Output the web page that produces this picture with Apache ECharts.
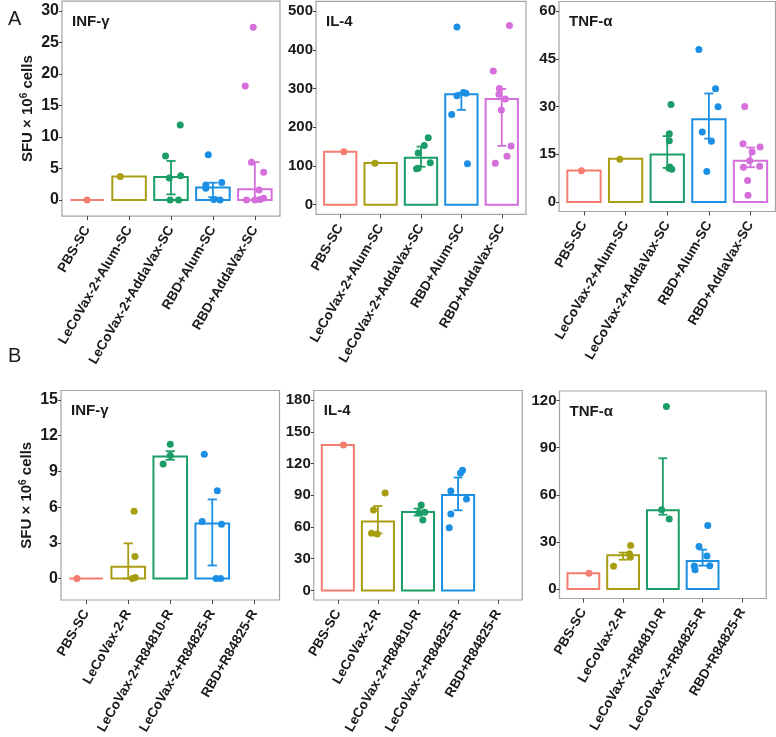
<!DOCTYPE html>
<html><head><meta charset="utf-8">
<script src="https://cdn.jsdelivr.net/npm/echarts@6/dist/echarts.min.js"></script>
<style>html,body{margin:0;padding:0;background:#fff}#c{width:776px;height:737px}</style>
</head><body><div id="c"></div>
<script>
// ---------- categories ----------
const catsA = ['PBS-SC','LeCoVax-2+Alum-SC','LeCoVax-2+AddaVax-SC','RBD+Alum-SC','RBD+AddaVax-SC'];
const catsB = ['PBS-SC','LeCoVax-2-R','LeCoVax-2+R84810-R','LeCoVax-2+R84825-R','RBD+R84825-R'];

// ---------- tick labels ----------
const ticksA1 = [0,5,10,15,20,25,30];
const ticksA2 = [0,100,200,300,400,500];
const ticksA3 = [0,15,30,45,60];
const ticksB1 = [0,3,6,9,12,15];
const ticksB2 = [0,30,60,90,120,150,180];
const ticksB3 = [0,30,60,90,120];

// ---------- Panel A : INF-γ ----------
const infA_median = [0, 3.75, 3.65, 2.0, 1.7];
const infA_q1 = [null, null, 0.9, 0.45, 0];
const infA_q3 = [null, null, 6.2, 2.75, 6.0];
const infA_points = [[0],[3.75],[7.0,11.9,3.5,3.85,0,0],[7.2,2.4,1.85,2.8,0.1,0],[27.4,18.1,6.0,4.4,1.6,0,0,0.1,0.3]];
const infA_jitter = [[0],[-0.21],[-0.13,0.22,-0.04,0.23,-0.02,0.18],[-0.11,-0.17,-0.17,0.21,0.02,0.17],[-0.04,-0.23,-0.08,0.21,0.1,-0.2,0,0.12,0.21]];

// ---------- Panel A : IL-4 ----------
const il4A_median = [137, 107.5, 121.5, 285, 273];
const il4A_q1 = [null, null, 98, 245, 152];
const il4A_q3 = [null, null, 150, 289, 299];
const il4A_points = [[137],[107],[173,153,133.5,108.4,93,94],[459,281.5,290,288,233,106],[463,345,300,285,273,244.5,151.6,125,107]];
const il4A_jitter = [[0.09],[-0.14],[0.18,0.08,-0.07,0.23,-0.11,-0.07],[-0.11,-0.11,0.05,0.11,-0.24,0.15],[0.19,-0.21,-0.06,-0.07,0.09,-0.01,0.23,0.13,-0.16]];

// ---------- Panel A : TNF-α ----------
const tnfA_median = [9.9, 13.6, 14.9, 26, 12.95];
const tnfA_q1 = [null, null, 10.7, 19.9, 10.9];
const tnfA_q3 = [null, null, 20.7, 34.1, 17.1];
const tnfA_points = [[9.8],[13.4],[30.6,21.4,19.2,10.6,10.3,11],[47.9,35.6,29.9,22,19.1,9.6],[30,18.3,17.3,15.7,12.95,10.9,11.2,6.75,2.1]];
const tnfA_jitter = [[-0.06],[-0.14],[0.09,0.05,0.05,0.04,0.11,0.06],[-0.24,0.16,0.22,-0.16,0.06,-0.05],[-0.14,-0.18,0.23,0.04,-0.02,-0.17,0.22,-0.07,-0.06]];

// ---------- Panel B : INF-γ ----------
const infB_median = [0, 1.0, 10.26, 4.63, null];
const infB_q1 = [null, 0, 9.98, 1.1, null];
const infB_q3 = [null, 2.96, 10.7, 6.65, null];
const infB_points = [[0],[5.66,1.86,0,0.1],[11.28,10.34,9.62],[10.45,7.37,4.8,4.57,0,0],[]];
const infB_jitter = [[-0.22],[0.14,0.16,0.1,0.17],[0,0,-0.17],[-0.19,0.12,-0.24,0.22,0.09,0.2],[]];

// ---------- Panel B : IL-4 ----------
const il4B_median = [137.4, 65.3, 74.2, 90.3, null];
const il4B_q1 = [null, 54, 70.8, 75.8, null];
const il4B_q3 = [null, 79.9, 77.4, 106.8, null];
const il4B_points = [[137.4],[92.2,76.1,54,53.3],[80.8,73.9,73.2,66.6],[113.7,111.1,94.1,86.5,72.3,59.4],[]];
const il4B_jitter = [[0.14],[0.18,-0.11,-0.16,-0.02],[0.08,0.17,0.02,0.12],[0.11,0.06,-0.18,0.21,-0.18,-0.22],[]];

// ---------- Panel B : TNF-α ----------
const tnfB_median = [10, 21.5, 50.1, 17.9, null];
const tnfB_q1 = [null, 18.7, 47.3, 14.9, null];
const tnfB_q3 = [null, 23.2, 83.2, 25.1, null];
const tnfB_points = [[10],[27.7,22.4,20.2,14.5],[116.2,50.5,44.5],[40.5,27.1,21.1,14.9,14.7,12.3],[]];
const tnfB_jitter = [[0.14],[0.19,0.16,0.18,-0.24],[0.09,-0.03,0.16],[0.13,-0.09,0.11,0.18,-0.21,-0.19],[]];

// ---------- style ----------
const colors = ['#F27D70','#A89E12','#1B9D67','#1A8FE3','#D46FDB'];
const FONT = 'Liberation Sans, Arial, sans-serif';
const TXT = '#1a1a1a';

const panels = [
  {grid:{left:62, top:1.2, width:218, height:214.9}, ymin:-2.55, ymax:31.55, ticks:ticksA1, cats:catsA, title:'INF-γ', med:infA_median, q1:infA_q1, q3:infA_q3, pts:infA_points, jit:infA_jitter, yname:true, fs:16},
  {grid:{left:316, top:1.4, width:210, height:213}, ymin:-25, ymax:525, ticks:ticksA2, cats:catsA, title:'IL-4', med:il4A_median, q1:il4A_q1, q3:il4A_q3, pts:il4A_points, jit:il4A_jitter, fs:15},
  {grid:{left:559, top:1.5, width:216.5, height:210}, ymin:-3, ymax:63, ticks:ticksA3, cats:catsA, title:'TNF-α', med:tnfA_median, q1:tnfA_q1, q3:tnfA_q3, pts:tnfA_points, jit:tnfA_jitter, fs:15},
  {grid:{left:61, top:390.5, width:218.5, height:211.5}, ymin:-1.8, ymax:15.8, ticks:ticksB1, cats:catsB, title:'INF-γ', med:infB_median, q1:infB_q1, q3:infB_q3, pts:infB_points, jit:infB_jitter, yname:true, fs:16},
  {grid:{left:313.8, top:390.5, width:208.4, height:210}, ymin:-9, ymax:189, ticks:ticksB2, cats:catsB, title:'IL-4', med:il4B_median, q1:il4B_q1, q3:il4B_q3, pts:il4B_points, jit:il4B_jitter, fs:15},
  {grid:{left:559.5, top:391, width:206.7, height:207.5}, ymin:-6, ymax:126, ticks:ticksB3, cats:catsB, title:'TNF-α', med:tnfB_median, q1:tnfB_q1, q3:tnfB_q3, pts:tnfB_points, jit:tnfB_jitter, fs:15}
];

const grid=[], xAxis=[], yAxis=[], series=[], title=[];
panels.forEach((p,i)=>{
  grid.push(Object.assign({show:true, borderColor:'#a3a3a3', borderWidth:1.2, backgroundColor:'#fff', containLabel:false}, p.grid));
  const cats = p.cats;
  xAxis.push({type:'value', gridIndex:i, min:-0.6, max:4.6,
    axisLine:{show:false, onZero:false}, splitLine:{show:false},
    axisTick:{show:true, customValues:[0,1,2,3,4], length:4, lineStyle:{color:'#444', width:1}},
    axisLabel:{customValues:[0,1,2,3,4], formatter:(v)=>cats[Math.round(v)], rotate:60, margin:11,
      fontFamily:FONT, fontWeight:'bold', fontSize:13.5, color:TXT}});
  const ya = {type:'value', gridIndex:i, min:p.ymin, max:p.ymax,
    axisLine:{show:false, onZero:false}, splitLine:{show:false},
    axisTick:{show:true, customValues:p.ticks, length:3, lineStyle:{color:'#444', width:1}},
    axisLabel:{customValues:p.ticks, margin:3, fontFamily:FONT, fontWeight:'bold', fontSize:p.fs, color:TXT}};
  if (p.yname) {
    ya.name = '{a|SFU × 10}{s|6}{a| cells}';
    ya.nameLocation = 'middle'; ya.nameRotate = 90; ya.nameGap = 25;
    ya.nameTextStyle = {rich:{a:{fontFamily:FONT, fontWeight:'bold', fontSize:15, color:TXT}, s:{fontFamily:FONT, fontWeight:'bold', fontSize:10, color:TXT, verticalAlign:'top', padding:[0,0,8,0]}}};
  }
  yAxis.push(ya);
  title.push({text:p.title, left:p.grid.left+5, top:p.grid.top+8, textStyle:{fontFamily:FONT, fontWeight:'bold', fontSize:15, color:TXT}});

  // bars (median)
  const barData = [];
  p.med.forEach((m,g)=>{ if (m!==null) barData.push([g, m]); });
  series.push({type:'custom', xAxisIndex:i, yAxisIndex:i, clip:false, z:2, data:barData,
    renderItem:(params, api)=>{
      const g = api.value(0), m = api.value(1);
      const a = api.coord([g-0.4, 0]), b = api.coord([g+0.4, m]);
      return {type:'rect', shape:{x:a[0], y:Math.min(a[1],b[1]), width:b[0]-a[0], height:Math.abs(a[1]-b[1])},
        style:{fill:'none', stroke:colors[g], lineWidth:2}};
    }});
  // error bars (IQR)
  const errData = [];
  p.q1.forEach((lo,g)=>{ if (lo!==null && p.q3[g]!==null) errData.push([g, lo, p.q3[g]]); });
  series.push({type:'custom', xAxisIndex:i, yAxisIndex:i, clip:false, z:3, data:errData,
    renderItem:(params, api)=>{
      const g = api.value(0), lo = api.value(1), hi = api.value(2);
      const pl = api.coord([g, lo]), ph = api.coord([g, hi]);
      const cl = api.coord([g-0.11, lo]), cr = api.coord([g+0.11, lo]);
      const c = colors[g];
      const st = {stroke:c, lineWidth:1.8};
      return {type:'group', children:[
        {type:'line', shape:{x1:pl[0], y1:pl[1], x2:ph[0], y2:ph[1]}, style:st},
        {type:'line', shape:{x1:cl[0], y1:pl[1], x2:cr[0], y2:pl[1]}, style:st},
        {type:'line', shape:{x1:cl[0], y1:ph[1], x2:cr[0], y2:ph[1]}, style:st}
      ]};
    }});
  // points
  p.pts.forEach((vals,g)=>{
    if (!vals.length) return;
    series.push({type:'scatter', xAxisIndex:i, yAxisIndex:i, clip:false, z:4, symbol:'circle', symbolSize:7,
      itemStyle:{color:colors[g], opacity:1},
      data: vals.map((v,k)=>[g + p.jit[g][k], v])});
  });
});

title.push({text:'A', left:3, top:4, textStyle:{fontFamily:FONT, fontWeight:'normal', fontSize:20, color:TXT}});
title.push({text:'B', left:3, top:341, textStyle:{fontFamily:FONT, fontWeight:'normal', fontSize:20, color:TXT}});

const chart = echarts.init(document.getElementById('c'), null, {renderer:'canvas'});
chart.setOption({animation:false, backgroundColor:'#fff', title, grid, xAxis, yAxis, series});
</script>
</body></html>
